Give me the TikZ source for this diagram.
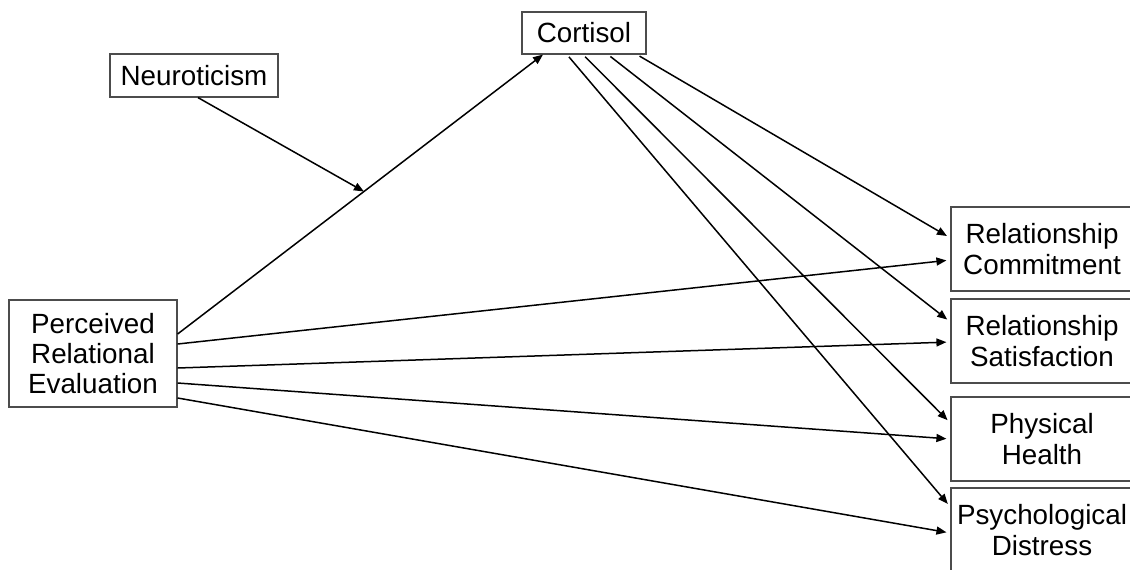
\documentclass[tikz,border=0pt]{standalone}
\usepackage{fontspec}
\setmainfont{Liberation Sans}
\usetikzlibrary{arrows.meta}
\begin{document}
\begin{tikzpicture}[x=0.5pt,y=-0.5pt,
  box/.style={draw=black!70,line width=0.6pt,fill=white,inner sep=0pt,align=center,
    font=\fontsize{13.9}{15.2}\selectfont},
  arr/.style={line width=0.75pt,-{Triangle[length=5pt,width=4pt]}}]
\useasboundingbox (0,0) rectangle (1130,569);
\node[box,minimum width=62pt,minimum height=21pt] (cort) at (584,33) {Cortisol};
\node[box,minimum width=84pt,minimum height=21.5pt] (neuro) at (194,75.5) {Neuroticism};
\node[box,minimum width=84pt,minimum height=53.5pt] (pre) at (93,353.5) {Perceived\\Relational\\Evaluation};
\node[box,minimum width=91pt,minimum height=42pt] (rc) at (1042,249) {Relationship\\Commitment};
\node[box,minimum width=91pt,minimum height=42pt] (rs) at (1042,341) {Relationship\\Satisfaction};
\node[box,minimum width=91pt,minimum height=42pt] (ph) at (1042,439) {Physical\\Health};
\node[box,minimum width=91pt,minimum height=42pt] (pd) at (1042,530) {Psychological\\Distress};
% PRE -> Cortisol
\draw[arr] ([yshift=9.75pt]pre.east) -- coordinate[pos=0.51] (mid) ([xshift=-20.5pt]cort.south);
\draw[arr] ([xshift=2pt]neuro.south) -- (mid);
% PRE -> outcomes
\draw[arr,shorten >=2pt] ([yshift=4.75pt]pre.east) -- ([yshift=-5.5pt]rc.west);
\draw[arr,shorten >=2pt] ([yshift=-7.25pt]pre.east) -- ([yshift=-0.5pt]rs.west);
\draw[arr,shorten >=2pt] ([yshift=-14.75pt]pre.east) -- (ph.west);
\draw[arr,shorten >=2pt] ([yshift=-22.25pt]pre.east) -- ([yshift=-1.5pt]pd.west);
% Cortisol -> outcomes
\draw[arr,shorten >=2pt,shorten <=1.5pt] ([xshift=26.5pt]cort.south) -- ([yshift=5.5pt]rc.west);
\draw[arr,shorten >=2pt,shorten <=1.5pt] ([xshift=12pt]cort.south) -- ([yshift=9.5pt]rs.west);
\draw[arr,shorten >=2pt,shorten <=1.5pt] ([xshift=-0.5pt]cort.south) -- ([yshift=8pt]ph.west);
\draw[arr,shorten >=2pt,shorten <=1.5pt] ([xshift=-8.5pt]cort.south) -- ([yshift=11.5pt]pd.west);
\end{tikzpicture}
\end{document}
